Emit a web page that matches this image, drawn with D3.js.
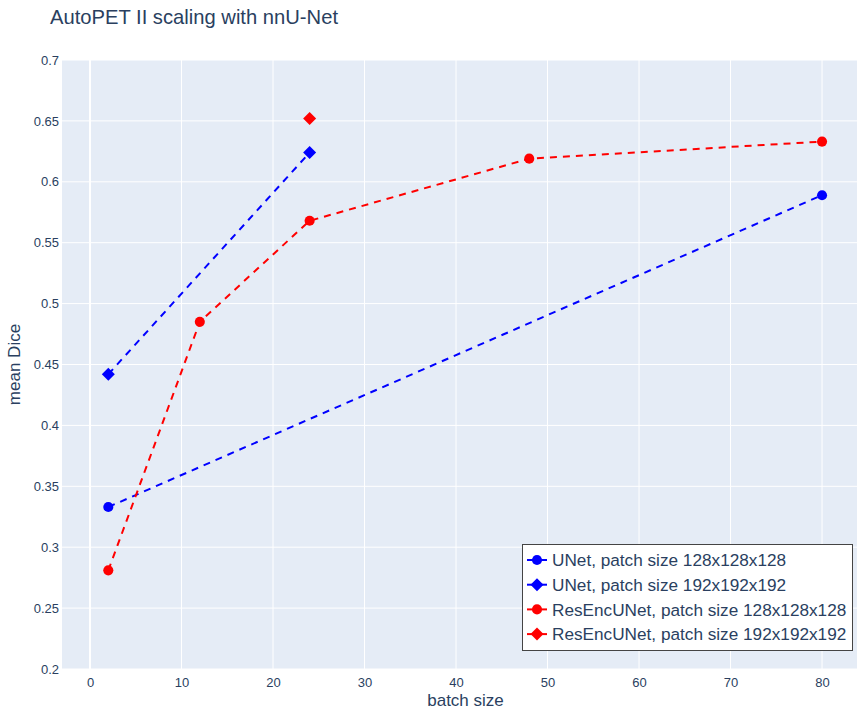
<!DOCTYPE html>
<html>
<head>
<meta charset="utf-8">
<style>
html, body { margin: 0; padding: 0; background: #fff; }
svg { display: block; font-family: "Liberation Sans", Arial, sans-serif; }
</style>
<script src="https://cdn.jsdelivr.net/npm/d3@7"></script>
</head>
<body>
<script>
// chart data
var title = "AutoPET II scaling with nnU-Net";
var xTicks = [0, 10, 20, 30, 40, 50, 60, 70, 80];
var yTicks = [0.2, 0.25, 0.3, 0.35, 0.4, 0.45, 0.5, 0.55, 0.6, 0.65, 0.7];

var unet128X = [2, 80];
var unet128Y = [0.333, 0.589];
var unet192X = [2, 24];
var unet192Y = [0.442, 0.624];
var resenc128X = [2, 12, 24, 48, 80];
var resenc128Y = [0.281, 0.485, 0.568, 0.619, 0.633];
var resenc192X = [24];
var resenc192Y = [0.652];

var series = [
  { name: "UNet, patch size 128x128x128", xs: unet128X, ys: unet128Y, color: "#0000ff", symbol: "circle" },
  { name: "UNet, patch size 192x192x192", xs: unet192X, ys: unet192Y, color: "#0000ff", symbol: "diamond" },
  { name: "ResEncUNet, patch size 128x128x128", xs: resenc128X, ys: resenc128Y, color: "#ff0000", symbol: "circle" },
  { name: "ResEncUNet, patch size 192x192x192", xs: resenc192X, ys: resenc192Y, color: "#ff0000", symbol: "diamond" }
];

var W = 857, H = 710;
var plot = { left: 62, right: 857, top: 60, bottom: 669 };
var textColor = "#2a3f5f";

var svg = d3.select("body").append("svg")
  .attr("width", W)
  .attr("height", H);

var x = d3.scaleLinear().domain([-3.06, 83.82]).range([plot.left, plot.right]);
var y = d3.scaleLinear().domain([0.2, 0.7]).range([plot.bottom, plot.top]);

svg.append("rect")
  .attr("x", plot.left).attr("y", plot.top)
  .attr("width", plot.right - plot.left).attr("height", plot.bottom - plot.top)
  .attr("fill", "#e5ecf6");

// grid
svg.append("g").selectAll("line").data(yTicks).enter().append("line")
  .attr("x1", plot.left).attr("x2", plot.right)
  .attr("y1", function(d) { return y(d); }).attr("y2", function(d) { return y(d); })
  .attr("stroke", "#fff").attr("stroke-width", 1);
svg.append("g").selectAll("line").data(xTicks).enter().append("line")
  .attr("y1", plot.top).attr("y2", plot.bottom)
  .attr("x1", function(d) { return x(d); }).attr("x2", function(d) { return x(d); })
  .attr("stroke", "#fff").attr("stroke-width", function(d) { return d === 0 ? 2 : 1; });

// axes
var fmt = function(d) { return String(+d.toFixed(2)); };
var yAxis = svg.append("g")
  .attr("transform", "translate(" + (plot.left - 3) + ",0)")
  .call(d3.axisLeft(y).tickValues(yTicks).tickFormat(fmt).tickSize(0).tickPadding(0));
var xAxis = svg.append("g")
  .attr("transform", "translate(0," + (plot.bottom + 6) + ")")
  .call(d3.axisBottom(x).tickValues(xTicks).tickSize(0).tickPadding(3));
[xAxis, yAxis].forEach(function(a) {
  a.select(".domain").remove();
  a.selectAll("text").attr("fill", textColor).style("font-size", "13px")
    .style("font-family", "'Liberation Sans', Arial, sans-serif");
});

// axis titles
svg.append("text")
  .attr("x", (plot.left + plot.right) / 2 + 6).attr("y", 706)
  .attr("text-anchor", "middle").attr("fill", textColor)
  .style("font-size", "17px").text("batch size");
svg.append("text")
  .attr("transform", "translate(20," + ((plot.top + plot.bottom) / 2) + ") rotate(-90)")
  .attr("text-anchor", "middle").attr("fill", textColor)
  .style("font-size", "17px").text("mean Dice");

svg.append("text")
  .attr("x", 50).attr("y", 24)
  .attr("fill", textColor).style("font-size", "20.2px").text(title);

// traces
var line = d3.line().x(function(d) { return x(d[0]); }).y(function(d) { return y(d[1]); });
var symbolPath = function(s) {
  return s === "circle" ? d3.symbol(d3.symbolCircle, 80)() : "M0,-6.5L6.5,0L0,6.5L-6.5,0Z";
};

series.forEach(function(s) {
  var pts = s.xs.map(function(v, i) { return [v, s.ys[i]]; });
  svg.append("path")
    .datum(pts)
    .attr("d", line)
    .attr("fill", "none")
    .attr("stroke", s.color)
    .attr("stroke-width", 2)
    .attr("stroke-dasharray", "7,6");
  svg.append("g").selectAll("path").data(pts).enter().append("path")
    .attr("transform", function(d) { return "translate(" + x(d[0]) + "," + y(d[1]) + ")"; })
    .attr("d", symbolPath(s.symbol))
    .attr("fill", s.color);
});

// legend
var lg = svg.append("g").attr("transform", "translate(522,544)");
lg.append("rect")
  .attr("x", 0.5).attr("y", 0.5).attr("width", 330).attr("height", 106)
  .attr("fill", "#fff").attr("stroke", "#444").attr("stroke-width", 1);
var items = lg.selectAll("g.item").data(series).enter().append("g")
  .attr("class", "item")
  .attr("transform", function(d, i) { return "translate(0," + (16 + i * 24.7) + ")"; });
items.append("line")
  .attr("x1", 5).attr("x2", 25).attr("y1", 0).attr("y2", 0)
  .attr("stroke", function(d) { return d.color; }).attr("stroke-width", 2);
items.append("path")
  .attr("transform", "translate(15,0)")
  .attr("d", function(d) { return symbolPath(d.symbol); })
  .attr("fill", function(d) { return d.color; });
items.append("text")
  .attr("x", 30).attr("y", 6.2)
  .attr("fill", textColor).style("font-size", "17.2px")
  .text(function(d) { return d.name; });
</script>
</body>
</html>
